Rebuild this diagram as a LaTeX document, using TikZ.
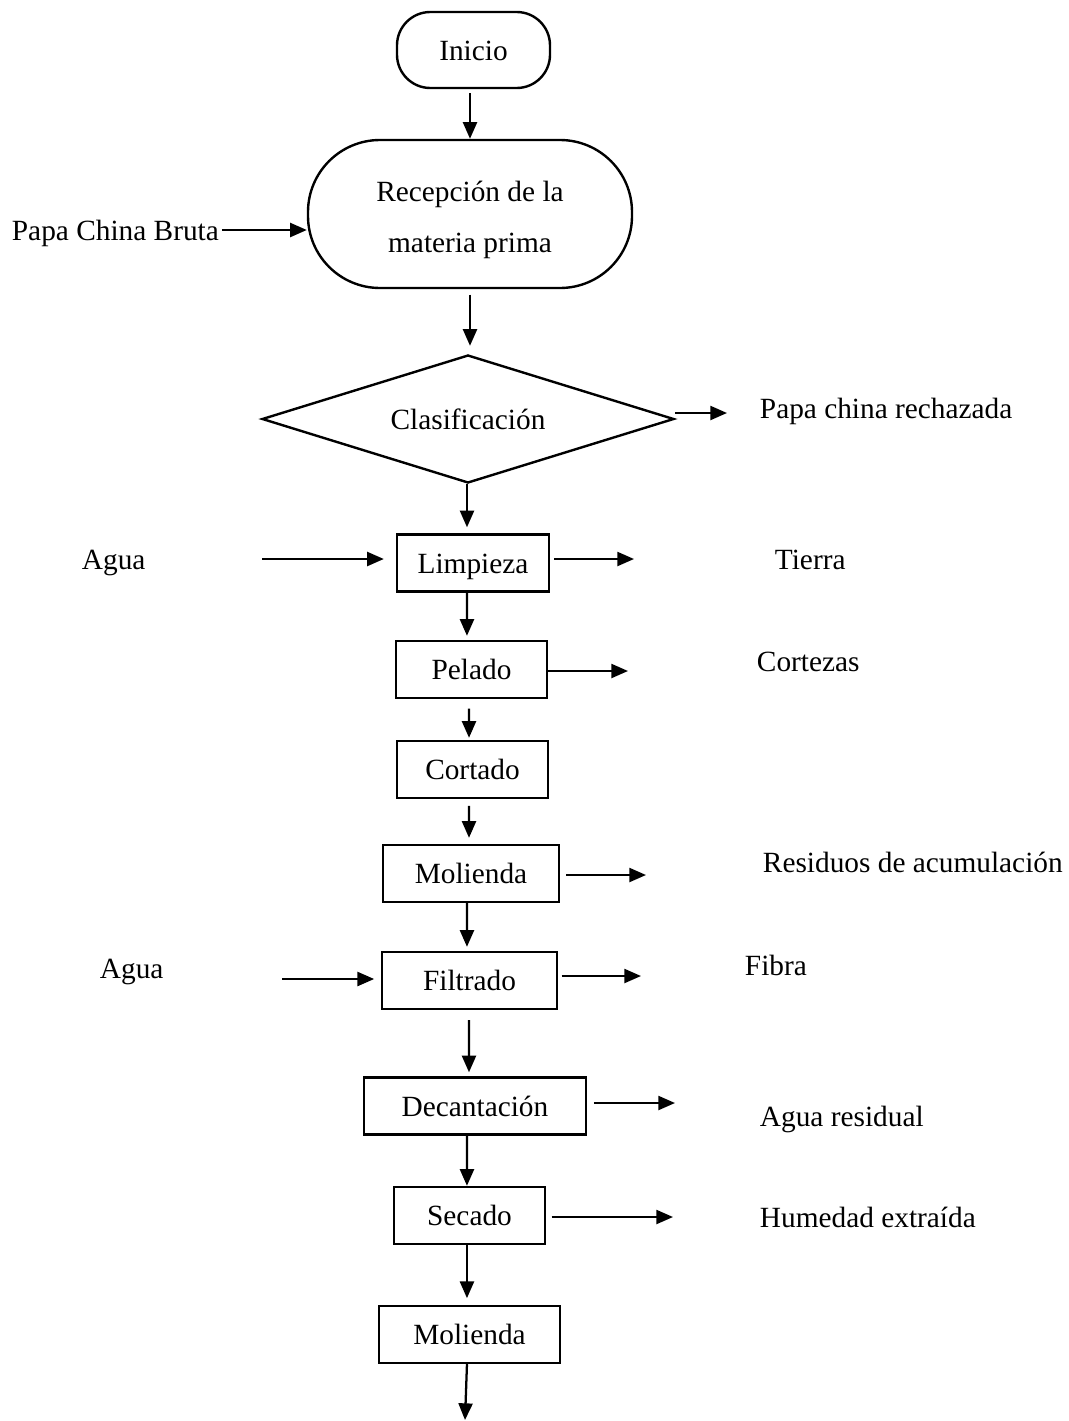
\documentclass[tikz,border=0pt]{standalone}
\usepackage{fontspec}
\setmainfont{Liberation Serif}
\usetikzlibrary{shapes.geometric,arrows.meta}
\begin{document}
\begin{tikzpicture}[x=0.75pt,y=-0.75pt,
  every node/.style={font=\fontsize{22}{26}\selectfont, inner sep=2pt,
    text height=15pt, text depth=0pt},
  arr/.style={line width=1.7pt, -{Triangle[length=12.5pt,width=10.5pt]}},
  procbox/.style={draw, line width=1.8pt, rectangle, minimum height=42.75pt},
  label/.style={anchor=west}
]
\useasboundingbox (0,0) rectangle (1068,1421);

% terminal and main reception step
\node[draw, line width=1.8pt, rounded corners=25pt,
      minimum width=114.75pt, minimum height=57pt] (ini) at (473.5,50) {Inicio};
\node[draw, line width=1.8pt, rounded corners=54pt, align=center,
      minimum width=243pt, minimum height=111pt,
      font=\fontsize{22}{38}\selectfont, text height=62pt, text depth=5pt] (rec) at (470,214)
      {Recepción de la\\materia prima};

% decision
\node[draw, line width=1.8pt, diamond, aspect=3.22, inner sep=0pt,
      minimum width=309pt, minimum height=96pt] (cla) at (468,419) {Clasificación};

% process steps
\node[procbox, minimum width=114pt]   (lim)  at (473,563)    {Limpieza};
\node[procbox, minimum width=113.25pt] (pel) at (471.5,669.5) {Pelado};
\node[procbox, minimum width=113.25pt] (cor) at (472.5,769.5) {Cortado};
\node[procbox, minimum width=132pt]   (mol1) at (471,873.5)  {Molienda};
\node[procbox, minimum width=131.25pt] (fil) at (469.5,980.5) {Filtrado};
\node[procbox, minimum width=166.5pt] (dec)  at (475,1106)   {Decantación};
\node[procbox, minimum width=113.25pt] (sec) at (469.5,1215.5) {Secado};
\node[procbox, minimum width=135.75pt] (mol2) at (469.5,1334.5) {Molienda};

% side labels
\node[label] (pcb)  at (9,230)     {Papa China Bruta};
\node[label] (rech) at (757,408)   {Papa china rechazada};
\node[label] (agua1) at (79,559)   {Agua};
\node[label] (tie)  at (772,559)   {Tierra};
\node[label] (cort) at (754,661)   {Cortezas};
\node[label] (res)  at (760,862)   {Residuos de acumulación};
\node[label] (agua2) at (97,968)   {Agua};
\node[label] (fib)  at (742,965)   {Fibra};
\node[label] (agr)  at (757,1116)  {Agua residual};
\node[label] (hum)  at (757,1217)  {Humedad extraída};

% free ends of side streams
\coordinate (o1) at (727,413);
\coordinate (i1) at (262,559);
\coordinate (o2) at (634,559);
\coordinate (o3) at (628,671);
\coordinate (o4) at (646,875);
\coordinate (i2) at (282,979);
\coordinate (o5) at (641,976);
\coordinate (o6) at (675,1103);
\coordinate (o7) at (673,1217);
\coordinate (fin) at (465,1420);

% main flow
\draw[arr, shorten <=3pt] (ini.south -| rec.north) -- (rec.north);
\draw[arr, shorten <=4pt, shorten >=6pt] (rec.south) -- (rec.south |- cla.north);
\draw[arr, shorten >=4.5pt] ([xshift=-0.75pt]cla.south) -- ([xshift=-4.5pt]lim.north);
\draw[arr, shorten >=3pt] ([xshift=-4.5pt]lim.south) -- ([xshift=-3.4pt]pel.north);
\draw[arr, shorten <=7pt, shorten >=1.5pt] ([xshift=-1.9pt]pel.south) -- ([xshift=-2.6pt]cor.north);
\draw[arr, shorten <=5pt, shorten >=4.5pt] ([xshift=-2.6pt]cor.south) -- ([xshift=-1.5pt]mol1.north);
\draw[arr, shorten >=3pt] ([xshift=-3pt]mol1.south) -- ([xshift=-1.9pt]fil.north);
\draw[arr, shorten <=7.5pt, shorten >=3pt] ([xshift=-0.4pt]fil.south) -- ([xshift=-4.5pt]dec.north);
\draw[arr] ([xshift=-6pt]dec.south) -- ([xshift=-1.9pt]sec.north);
\draw[arr, shorten >=5pt] ([xshift=-1.9pt]sec.south) -- ([xshift=-1.9pt]mol2.north);
\draw[arr] ([xshift=-1.9pt]mol2.south) -- (fin);

% inputs
\draw[arr] (pcb.east) -- (pcb.east -| rec.west);
\draw[arr, shorten >=9pt] (i1) -- (i1 -| lim.west);
\draw[arr, shorten >=5pt] (i2) -- (i2 -| fil.west);

% outputs
\draw[arr] (cla.east |- o1) -- (o1);
\draw[arr, shorten <=3pt] (lim.east |- o2) -- (o2);
\draw[arr] (pel.east |- o3) -- (o3);
\draw[arr, shorten <=4.5pt] (mol1.east |- o4) -- (o4);
\draw[arr, shorten <=2.5pt] (fil.east |- o5) -- (o5);
\draw[arr, shorten <=5pt] (dec.east |- o6) -- (o6);
\draw[arr, shorten <=4pt] (sec.east |- o7) -- (o7);
\end{tikzpicture}
\end{document}
